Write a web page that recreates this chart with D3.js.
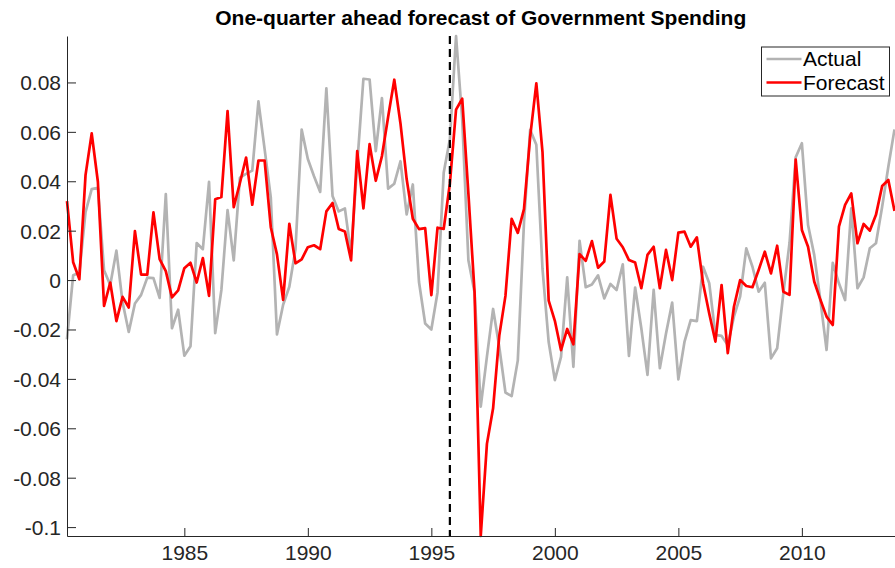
<!DOCTYPE html>
<html>
<head>
<meta charset="utf-8">
<script src="https://cdn.jsdelivr.net/npm/d3@7"></script>
<style>
  body { margin: 0; background: #fff; }
  svg { display: block; font-family: "Liberation Sans", Arial, Helvetica, sans-serif; }
</style>
</head>
<body>
<div id="chart"></div>
<script>
// Data: quarterly, first observation 1980 Q2
const startYear = 1980.25;

const actual = [
  -0.024, 0.002, 0.003, 0.0275, 0.0368, 0.0373, 0.004, -0.002, 0.0119, -0.009,
  -0.021, -0.0095, -0.006, 0.001, 0.0008, -0.0072, 0.0348, -0.0195, -0.012, -0.0306,
  -0.0268, 0.015, 0.0125, 0.0398, -0.0215, -0.004, 0.0283, 0.008, 0.0415, 0.043,
  0.0443, 0.0723, 0.053, 0.0335, -0.022, -0.010, -0.0027, 0.0125, 0.0609, 0.049,
  0.042, 0.0357, 0.0776, 0.034, 0.0278, 0.029, 0.0105, 0.047, 0.0815, 0.0812,
  0.0522, 0.0737, 0.037, 0.039, 0.0481, 0.0266, 0.0387, -0.0008, -0.0176, -0.02,
  -0.005, 0.0434, 0.057, 0.0988, 0.065, 0.008, -0.005, -0.0512, -0.031, -0.0117,
  -0.0271, -0.0455, -0.047, -0.0325, 0.0232, 0.0608, 0.0548, 0.0045, -0.0251, -0.0405,
  -0.0311, 0.0011, -0.0351, 0.0159, -0.0029, -0.0018, 0.0019, -0.0074, -0.0016, -0.004,
  0.0064, -0.0307, -0.003, -0.0195, -0.0384, -0.004, -0.0357, -0.0216, -0.0091, -0.0402,
  -0.0249, -0.0162, -0.0166, 0.0054, -0.0013, -0.0222, -0.0226, -0.0263, -0.0148, -0.0067,
  0.0128, 0.0054, -0.0047, -0.0011, -0.0317, -0.0276, -0.0054, 0.015, 0.0497, 0.0554,
  0.0223, 0.0102, -0.0081, -0.0283, 0.007, -0.0013, -0.0081, 0.029, -0.0033, 0.0011,
  0.0129, 0.0149, 0.0297, 0.0459, 0.061
];

const forecast = [
  0.032, 0.0072, 0.0003, 0.0425, 0.0594, 0.0398, -0.0105, -0.001, -0.0166, -0.0068,
  -0.0111, 0.0198, 0.0022, 0.0022, 0.0274, 0.0085, 0.0036, -0.007, -0.0042, 0.0048,
  0.007, -0.001, 0.0089, -0.0064, 0.0327, 0.0336, 0.0684, 0.0295, 0.0393, 0.0496,
  0.0305, 0.0484, 0.0484, 0.0214, 0.0104, -0.008, 0.0228, 0.0068, 0.0084, 0.0133,
  0.0141, 0.0125, 0.0278, 0.0312, 0.0207, 0.0197, 0.008, 0.0522, 0.029, 0.055,
  0.0402, 0.0502, 0.066, 0.0811, 0.0634, 0.0409, 0.0248, 0.0206, 0.021, -0.0061,
  0.0212, 0.0207, 0.039, 0.069, 0.0734, 0.035, -0.005, -0.1036, -0.0663, -0.0519,
  -0.0225, -0.0064, 0.0248, 0.0191, 0.0287, 0.058, 0.0796, 0.0518, -0.0083, -0.0165,
  -0.0284, -0.0198, -0.026, 0.0105, 0.0078, 0.0158, 0.005, 0.0075, 0.0345, 0.0167,
  0.0133, 0.0081, 0.0071, -0.0033, 0.0102, 0.0135, -0.0033, 0.0122, 0.0, 0.0192,
  0.0196, 0.0135, 0.0173, -0.0013, -0.0135, -0.0249, -0.002, -0.0296, -0.0108, 0.0,
  -0.0024, -0.0029, 0.0041, 0.0115, 0.0027, 0.0139, -0.0047, -0.006, 0.0488, 0.0203,
  0.0135, -0.0006, -0.008, -0.0148, -0.0182, 0.0216, 0.0304, 0.0351, 0.0149, 0.0227,
  0.02, 0.0264, 0.0381, 0.0405, 0.028
];

const xTicks = [1985, 1990, 1995, 2000, 2005, 2010];
const yTicks = [-0.1, -0.08, -0.06, -0.04, -0.02, 0, 0.02, 0.04, 0.06, 0.08];
const breakYear = 1995.75;   // dashed vertical line
const seriesNames = ["Actual", "Forecast"];
const seriesColors = ["#b3b3b3", "#ff0000"];

// Layout
const width = 895, height = 568;
const margin = { top: 36, right: 0.5, bottom: 32, left: 67 };
const axisColor = "#262626";
const fontSize = 21;

const svg = d3.select("#chart").append("svg")
  .attr("width", width)
  .attr("height", height);

const rows = actual.map((a, i) => ({ t: startYear + i / 4, a: a, f: forecast[i] }));

const x = d3.scaleLinear()
  .domain(d3.extent(rows, d => d.t))
  .range([margin.left, width - margin.right]);

const y = d3.scaleLinear()
  .domain([d3.min(rows, d => Math.min(d.a, d.f)), d3.max(rows, d => Math.max(d.a, d.f))])
  .range([height - margin.bottom, margin.top]);

// Lines
const lineA = d3.line().x(d => x(d.t)).y(d => y(d.a));
const lineF = d3.line().x(d => x(d.t)).y(d => y(d.f));

svg.append("path")
  .datum(rows)
  .attr("fill", "none")
  .attr("stroke", seriesColors[0])
  .attr("stroke-width", 2.7)
  .attr("stroke-linejoin", "round")
  .attr("d", lineA);

svg.append("path")
  .datum(rows)
  .attr("fill", "none")
  .attr("stroke", seriesColors[1])
  .attr("stroke-width", 2.7)
  .attr("stroke-linejoin", "round")
  .attr("d", lineF);

// Dashed break line
svg.append("line")
  .attr("x1", x(breakYear)).attr("x2", x(breakYear))
  .attr("y1", y.range()[1]).attr("y2", y.range()[0])
  .attr("stroke", "#000")
  .attr("stroke-width", 2.2)
  .attr("stroke-dasharray", "8,5");

// Axes (ticks inward, like MATLAB)
const xAxis = d3.axisBottom(x)
  .tickValues(xTicks)
  .tickFormat(d3.format("d"))
  .tickSizeInner(-8)
  .tickSizeOuter(0)
  .tickPadding(9);

// plain hyphen for negatives, as in the original figure
const fmtY = d => d === 0 ? "0" : String(+d.toFixed(2));

const yAxis = d3.axisLeft(y)
  .tickValues(yTicks)
  .tickFormat(fmtY)
  .tickSizeInner(-9)
  .tickSizeOuter(0)
  .tickPadding(6);

const gx = svg.append("g")
  .attr("transform", `translate(0,${height - margin.bottom})`)
  .call(xAxis);

const gy = svg.append("g")
  .attr("transform", `translate(${margin.left},0)`)
  .call(yAxis);

[gx, gy].forEach(g => {
  g.select(".domain").attr("stroke", axisColor).attr("stroke-width", 1);
  g.selectAll(".tick line").attr("stroke", axisColor).attr("stroke-width", 1);
  g.selectAll(".tick text")
    .attr("fill", axisColor)
    .style("font-size", fontSize + "px")
    .style("font-family", "'Liberation Sans', Arial, Helvetica, sans-serif");
});
gx.selectAll(".tick text").attr("dy", "0.71em");
gy.selectAll(".tick text").attr("dy", "0.35em");

// Title
svg.append("text")
  .attr("x", (margin.left + width - margin.right) / 2)
  .attr("y", 25)
  .attr("text-anchor", "middle")
  .style("font-size", fontSize + "px")
  .style("font-weight", "bold")
  .attr("fill", "#000")
  .text("One-quarter ahead forecast of Government Spending");

// Legend
const legend = svg.append("g").attr("transform", "translate(761.5,47)");
legend.append("rect")
  .attr("width", 128)
  .attr("height", 49)
  .attr("fill", "#fff")
  .attr("stroke", axisColor)
  .attr("stroke-width", 1);

seriesNames.forEach((name, i) => {
  const ly = 12 + i * 23.5;
  legend.append("line")
    .attr("x1", 5).attr("x2", 40)
    .attr("y1", ly).attr("y2", ly)
    .attr("stroke", seriesColors[i])
    .attr("stroke-width", 2.7);
  legend.append("text")
    .attr("x", 41.5)
    .attr("y", ly)
    .attr("dy", "0.35em")
    .style("font-size", fontSize + "px")
    .attr("fill", "#000")
    .text(name);
});
</script>
</body>
</html>
